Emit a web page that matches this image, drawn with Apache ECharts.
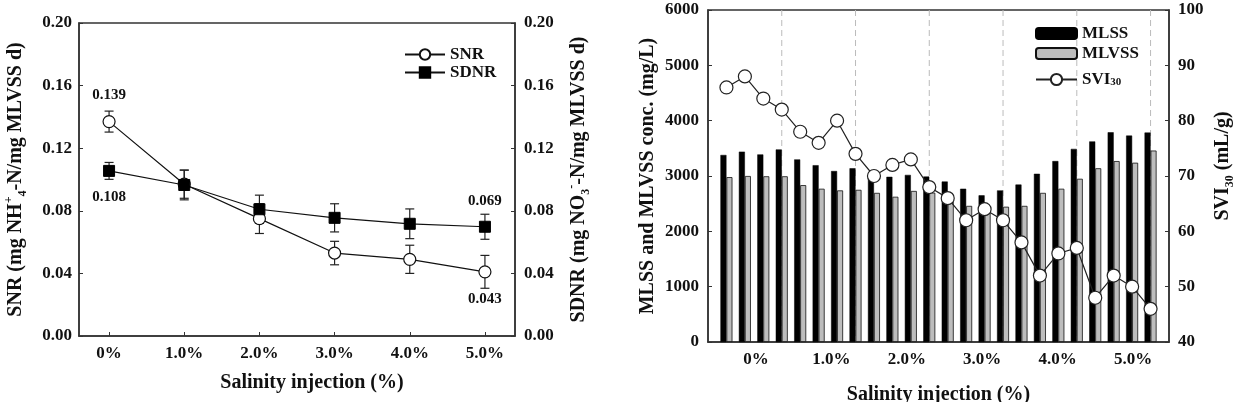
<!DOCTYPE html>
<html>
<head>
<meta charset="utf-8">
<script src="https://cdn.jsdelivr.net/npm/echarts@6/dist/echarts.min.js"></script>
<style>
html,body{margin:0;padding:0;background:#fff;}
#c{width:1234px;height:402px;}
</style>
</head>
<body>
<div id="c"></div>
<script>
// ---- Left chart data ----
const salinity = ['0%', '1.0%', '2.0%', '3.0%', '4.0%', '5.0%'];
const snr = [0.137, 0.097, 0.075, 0.053, 0.049, 0.041];
const snrErr = [0.0067, 0.009, 0.0095, 0.0075, 0.009, 0.0105];
const sdnr = [0.1055, 0.0965, 0.081, 0.0755, 0.0717, 0.0698];
const sdnrErr = [0.0054, 0.0095, 0.009, 0.009, 0.0095, 0.008];
const snrNotes = ['0.139', '', '', '', '', '0.043'];
const sdnrNotes = ['0.108', '', '', '', '', '0.069'];

// ---- Right chart data (24 samples, 4 per salinity phase) ----
const mlss = [3380, 3440, 3390, 3480, 3300, 3195, 3090, 3140, 2960, 2985, 3020, 2990,
              2900, 2770, 2650, 2740, 2845, 3040, 3270, 3490, 3625, 3790, 3730, 3785];
const mlvss = [2980, 3000, 2995, 2995, 2835, 2770, 2740, 2750, 2695, 2625, 2730, 2700,
               2620, 2460, 2420, 2445, 2460, 2695, 2770, 2950, 3140, 3270, 3240, 3460];
const svi = [86, 88, 84, 82, 78, 76, 80, 74, 70, 72, 73, 68,
             66, 62, 64, 62, 58, 52, 56, 57, 48, 52, 50, 46];
const phaseEnds = [3, 7, 11, 15, 19, 23];

const FONT = 'Liberation Serif';
const INK = '#111';
const AX = '#333';
const labelPos = salinity.map((_, k) => 1.6 + 4.09 * k);

const chart = echarts.init(document.getElementById('c'), null, {renderer: 'canvas'});

const tickStyle = {fontFamily: FONT, fontWeight: 'bold', fontSize: 17, color: INK};
const subRich = {fontFamily: FONT, fontWeight: 'bold', fontSize: 11, color: INK, verticalAlign: 'bottom', lineHeight: 12};
const nameStyleBase = {
  fontFamily: FONT, fontWeight: 'bold', fontSize: 20, color: INK, lineHeight: 26,
  rich: {
    sup: {fontFamily: FONT, fontWeight: 'bold', fontSize: 12, color: INK, verticalAlign: 'top', lineHeight: 13},
    sub: {fontFamily: FONT, fontWeight: 'bold', fontSize: 12, color: INK, verticalAlign: 'bottom', lineHeight: 13}
  }
};
const xNameStyle = {fontFamily: FONT, fontWeight: 'bold', fontSize: 20, color: INK};
const axLine = {show: true, onZero: false, lineStyle: {color: AX, width: 1.5}};
const legendText = {fontFamily: FONT, fontWeight: 'bold', fontSize: 17, color: INK, rich: {sub: subRich}};

function errRender(params, api) {
  const x = api.value(0), y = api.value(1), e = api.value(2);
  const t = api.coord([x, y + e]), b = api.coord([x, y - e]);
  const w = 4.5;
  const st = {stroke: '#222', lineWidth: 1.2};
  return {type: 'group', children: [
    {type: 'line', shape: {x1: t[0], y1: t[1], x2: b[0], y2: b[1]}, style: st},
    {type: 'line', shape: {x1: t[0] - w, y1: t[1], x2: t[0] + w, y2: t[1]}, style: st},
    {type: 'line', shape: {x1: b[0] - w, y1: b[1], x2: b[0] + w, y2: b[1]}, style: st}
  ]};
}

const noteLabel = (txt, pos) => ({
  show: !!txt, formatter: txt, position: pos, distance: pos === 'bottom' ? 13 : 12,
  fontFamily: FONT, fontWeight: 'bold', fontSize: 15, color: INK
});

const option = {
  animation: false,
  backgroundColor: '#fff',
  grid: [
    {left: 79, top: 23, width: 436, height: 313, show: true, borderColor: AX, borderWidth: 1.5,
     outerBoundsMode: 'none', containLabel: false},
    {left: 708, top: 10, width: 461, height: 332, show: true, borderColor: AX, borderWidth: 1.5,
     outerBoundsMode: 'none', containLabel: false}
  ],
  legend: [
    {
      data: ['SNR', 'SDNR'], orient: 'vertical', left: 399, top: 41,
      itemWidth: 40, itemHeight: 13, itemGap: 1, textStyle: legendText
    },
    {
      data: ['MLSS', 'MLVSS'], orient: 'vertical', left: 1030, top: 20,
      itemWidth: 41, itemHeight: 11, itemGap: 3, textStyle: legendText
    },
    {
      data: ['SVI30'], orient: 'vertical', left: 1030, top: 66,
      itemWidth: 41, itemHeight: 14, itemGap: 1,
      formatter: n => 'SVI{sub|30}', textStyle: legendText
    }
  ],
  xAxis: [
    {
      gridIndex: 0, type: 'value', min: -0.4, max: 5.4,
      name: 'Salinity injection (%)', nameLocation: 'middle', nameGap: 37,
      nameTextStyle: Object.assign({}, xNameStyle, {padding: [0, 0, 0, 30]}),
      axisLine: axLine,
      axisTick: {show: true, inside: true, length: 4, customValues: salinity.map((_, i) => i), lineStyle: {color: AX}},
      axisLabel: Object.assign({customValues: salinity.map((_, i) => i), margin: 9,
        formatter: v => salinity[Math.round(v)]}, tickStyle),
      splitLine: {show: false}
    },
    {
      gridIndex: 1, type: 'value', min: -1, max: 24,
      name: 'Salinity injection (%)', nameLocation: 'middle', nameGap: 43,
      nameTextStyle: xNameStyle,
      axisLine: axLine,
      axisTick: {show: false},
      axisLabel: Object.assign({customValues: labelPos, margin: 9,
        formatter: v => { const k = labelPos.findIndex(p => Math.abs(p - v) < 1e-6); return k >= 0 ? salinity[k] : ''; }}, tickStyle),
      splitLine: {show: false}
    }
  ],
  yAxis: [
    {
      gridIndex: 0, type: 'value', min: 0, max: 0.2, interval: 0.04, position: 'left',
      name: 'SNR (mg NH{sup|+}{sub|4}-N/mg MLVSS d)', nameLocation: 'middle', nameGap: 50, nameRotate: 90,
      nameTextStyle: nameStyleBase,
      axisLine: axLine, axisTick: {show: true, inside: true, length: 4, lineStyle: {color: AX}},
      axisLabel: Object.assign({margin: 7, formatter: v => v.toFixed(2)}, tickStyle),
      splitLine: {show: false}
    },
    {
      gridIndex: 0, type: 'value', min: 0, max: 0.2, interval: 0.04, position: 'right',
      name: 'SDNR (mg NO{sub|3}{sup|-}-N/mg MLVSS d)', nameLocation: 'middle', nameGap: 51, nameRotate: 90,
      nameTextStyle: nameStyleBase,
      axisLine: axLine, axisTick: {show: true, inside: true, length: 4, lineStyle: {color: AX}},
      axisLabel: Object.assign({margin: 9, formatter: v => v.toFixed(2)}, tickStyle),
      splitLine: {show: false}
    },
    {
      gridIndex: 1, type: 'value', min: 0, max: 6000, interval: 1000, position: 'left',
      name: 'MLSS and MLVSS conc. (mg/L)', nameLocation: 'middle', nameGap: 47, nameRotate: 90,
      nameTextStyle: nameStyleBase,
      axisLine: axLine, axisTick: {show: true, inside: true, length: 4, lineStyle: {color: AX}},
      axisLabel: Object.assign({margin: 9, formatter: v => String(v)}, tickStyle),
      splitLine: {show: false}
    },
    {
      gridIndex: 1, type: 'value', min: 40, max: 100, interval: 10, position: 'right',
      name: 'SVI{sub|30} (mL/g)', nameLocation: 'middle', nameGap: 41, nameRotate: 90,
      nameTextStyle: Object.assign({}, nameStyleBase, {padding: [0, 0, 0, 20]}),
      axisLine: axLine, axisTick: {show: true, inside: true, length: 4, lineStyle: {color: AX}},
      axisLabel: Object.assign({margin: 9, formatter: v => String(v)}, tickStyle),
      splitLine: {show: false}
    }
  ],
  series: [
    {
      type: 'custom', name: 'snrErr', xAxisIndex: 0, yAxisIndex: 0, z: 1,
      renderItem: errRender, data: salinity.map((_, i) => [i, snr[i], snrErr[i]])
    },
    {
      type: 'custom', name: 'sdnrErr', xAxisIndex: 0, yAxisIndex: 1, z: 1,
      renderItem: errRender, data: salinity.map((_, i) => [i, sdnr[i], sdnrErr[i]])
    },
    {
      type: 'line', name: 'SNR', xAxisIndex: 0, yAxisIndex: 0, z: 3,
      symbol: 'circle', symbolSize: 12, showAllSymbol: true,
      lineStyle: {color: '#111', width: 1.2},
      itemStyle: {color: '#fff', borderColor: '#111', borderWidth: 1.2},
      data: salinity.map((_, i) => ({value: [i, snr[i]], label: noteLabel(snrNotes[i], i === 0 ? 'top' : 'bottom')}))
    },
    {
      type: 'line', name: 'SDNR', xAxisIndex: 0, yAxisIndex: 1, z: 4,
      symbol: 'rect', symbolSize: 11, showAllSymbol: true,
      lineStyle: {color: '#111', width: 1.2},
      itemStyle: {color: '#000', borderColor: '#000', borderWidth: 1},
      data: salinity.map((_, i) => ({value: [i, sdnr[i]], label: noteLabel(sdnrNotes[i], i === 0 ? 'bottom' : 'top')}))
    },
    {
      type: 'custom', name: 'phase', xAxisIndex: 1, yAxisIndex: 2, z: 0, silent: true,
      renderItem: (params, api) => {
        const a = api.coord([api.value(0), 6000]), b = api.coord([api.value(0), 0]);
        return {type: 'line', shape: {x1: a[0], y1: a[1], x2: b[0], y2: b[1]},
          style: {stroke: '#bbb', lineWidth: 1, lineDash: [6, 4]}};
      },
      data: phaseEnds.map(x => [x, 0])
    },
    {
      type: 'bar', name: 'MLSS', xAxisIndex: 1, yAxisIndex: 2, z: 2,
      barWidth: 6, barGap: '0%',
      itemStyle: {color: '#000', borderColor: '#000', borderWidth: 0.5},
      data: mlss.map((v, i) => [i, v])
    },
    {
      type: 'bar', name: 'MLVSS', xAxisIndex: 1, yAxisIndex: 2, z: 2,
      barWidth: 6, barGap: '0%',
      itemStyle: {color: '#bdbdbd', borderColor: '#111', borderWidth: 0.8},
      data: mlvss.map((v, i) => [i, v])
    },
    {
      type: 'line', name: 'SVI30', xAxisIndex: 1, yAxisIndex: 3, z: 5,
      symbol: 'circle', symbolSize: 13, showAllSymbol: true,
      lineStyle: {color: '#222', width: 1.2},
      itemStyle: {color: '#fff', borderColor: '#222', borderWidth: 1.2},
      data: svi.map((v, i) => [i, v])
    }
  ]
};
chart.setOption(option);
</script>
</body>
</html>
